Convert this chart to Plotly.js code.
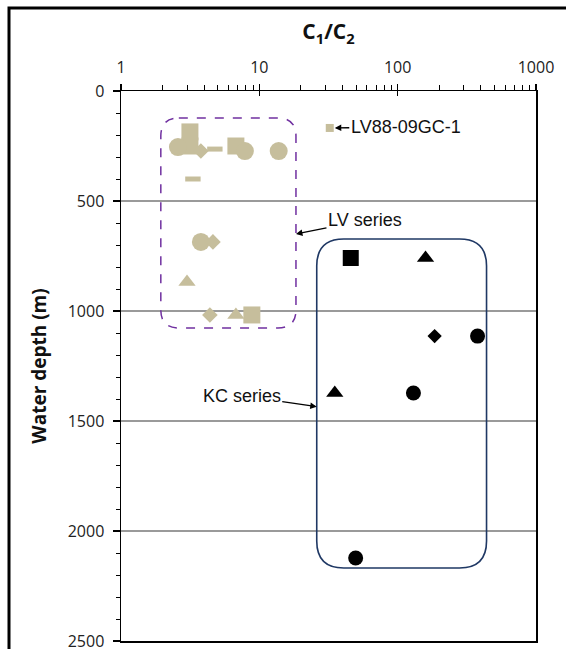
<!DOCTYPE html>
<html><head><meta charset="utf-8">
<script src="https://cdn.plot.ly/plotly-3.0.1.min.js"></script>
<style>html,body{margin:0;padding:0;background:#fff;}#chart{width:566px;height:649px;}</style>
</head><body><div id="chart"></div>
<script>
// ---- data (C1/C2 ratio, water depth m) ----
// LV series
const lvCircleRatio = [2.58, 7.86, 13.8, 3.78];
const lvCircleDepth = [255, 273, 273, 686];
const lvSquareRatio = [3.15, 3.15, 6.77, 8.83];
const lvSquareDepth = [186, 250, 250, 1018];
const lvDiamondRatio = [3.78, 4.62, 4.39];
const lvDiamondDepth = [273, 686, 1018];
const lvTriangleRatio = [3.0, 6.77];
const lvTriangleDepth = [868, 1018];
const lvDashRatio = [4.77, 3.31];
const lvDashDepth = [264, 400];
const lv88Ratio = [32.3];
const lv88Depth = [168];
// KC series
const kcSquareRatio = [45.8];
const kcSquareDepth = [759];
const kcTriangleRatio = [159, 35.1];
const kcTriangleDepth = [759, 1373];
const kcDiamondRatio = [185];
const kcDiamondDepth = [1114];
const kcCircleRatio = [378, 130, 49.7];
const kcCircleDepth = [1114, 1373, 2123];
// axes
const xTickVals = [1, 10, 100, 1000];
const xTickText = ['1', '10', '100', '1000'];
const yTickVals = [0, 500, 1000, 1500, 2000, 2500];
const yTickText = ['0', '500', '1000', '1500', '2000', '2500'];
// group outlines (ratio min/max, depth min/max)
const lvBoxRatio = [1.94, 18.4];
const lvBoxDepth = [123, 1077];
const kcBoxRatio = [26.0, 439];
const kcBoxDepth = [673, 2168];

const W = 566, H = 649;
const M = {l: 121, r: 30, t: 91, b: 8};
const PW = W - M.l - M.r, PH = H - M.t - M.b;
const X_RANGE = [0, 3], Y_MAX = 2500;
const TAN = '#C6BE9C';

function px(v){ return (Math.log10(v) - X_RANGE[0]) / (X_RANGE[1] - X_RANGE[0]); }
function py(d){ return 1 - d / Y_MAX; }
function roundedBox(xr, yr, r){
  const x0 = px(xr[0]), x1 = px(xr[1]);
  const yt = py(yr[0]), yb = py(yr[1]);
  const rx = r / PW, ry = r / PH;
  return `M${x0+rx},${yt} L${x1-rx},${yt} Q${x1},${yt} ${x1},${yt-ry} L${x1},${yb+ry} Q${x1},${yb} ${x1-rx},${yb} L${x0+rx},${yb} Q${x0},${yb} ${x0},${yb+ry} L${x0},${yt-ry} Q${x0},${yt} ${x0+rx},${yt} Z`;
}

function pts(x, y, symbol, color, size, extra){
  const m = Object.assign({symbol: symbol, color: color, size: size, line: {width: 0}}, extra || {});
  return {x: x, y: y, type: 'scatter', mode: 'markers', marker: m, hoverinfo: 'x+y', showlegend: false, cliponaxis: false};
}

const traces = [
  pts(lvSquareRatio, lvSquareDepth, 'square', TAN, 17),
  pts(lvCircleRatio, lvCircleDepth, 'circle', TAN, 18),
  pts(lvDiamondRatio, lvDiamondDepth, 'diamond', TAN, 12),
  pts(lvTriangleRatio, lvTriangleDepth, 'triangle-up', TAN, 15),
  pts(lvDashRatio, lvDashDepth, 'line-ew', TAN, 11, {line: {width: 5, color: TAN}}),
  pts(lv88Ratio, lv88Depth, 'square', TAN, 8),
  pts(kcSquareRatio, kcSquareDepth, 'square', '#000', 16),
  pts(kcTriangleRatio, kcTriangleDepth, 'triangle-up', '#000', 15),
  pts(kcDiamondRatio, kcDiamondDepth, 'diamond', '#000', 11),
  pts(kcCircleRatio, kcCircleDepth, 'circle', '#000', 15),
  // invisible trace carrying the overlay axis used for the crossing major ticks
  {x: [1, 1000], y: [0, 0], xaxis: 'x2', yaxis: 'y', type: 'scatter', mode: 'markers',
   marker: {opacity: 0}, hoverinfo: 'skip', showlegend: false}
];

const tickFont = {family: 'Open Sans, sans-serif', size: 16, color: '#222'};
const annFont = {family: 'Liberation Sans, Arial, sans-serif', size: 18, color: '#111'};

const layout = {
  width: W, height: H,
  margin: M,
  paper_bgcolor: '#fff', plot_bgcolor: '#fff',
  showlegend: false,
  xaxis: {
    type: 'log', range: X_RANGE, side: 'top',
    tickvals: xTickVals, ticktext: xTickText,
    ticks: 'outside', ticklen: 6, tickwidth: 1.3, tickcolor: '#000',
    minor: {ticks: 'outside', ticklen: 5, tickwidth: 1, tickcolor: '#000', dtick: 'D1', showgrid: false},
    showline: true, linecolor: '#000', linewidth: 1.5, mirror: true,
    showgrid: false, zeroline: false,
    tickfont: tickFont, ticklabelstandoff: 4,
    title: {text: '<b>C<sub>1</sub>/C<sub>2</sub></b>', font: {family: 'Open Sans, sans-serif', size: 21, color: '#111'}, standoff: 10}
  },
  xaxis2: {
    type: 'log', range: X_RANGE, side: 'top', overlaying: 'x', anchor: 'y',
    tickvals: xTickVals, showticklabels: false,
    ticks: 'inside', ticklen: 5, tickwidth: 1.3, tickcolor: '#000',
    showline: false, showgrid: false, zeroline: false
  },
  yaxis: {
    range: [Y_MAX, 0],
    tickvals: yTickVals, ticktext: yTickText,
    ticks: 'outside', ticklen: 7, tickwidth: 1.3, tickcolor: '#000',
    minor: {ticks: 'outside', ticklen: 4, tickwidth: 1, tickcolor: '#000', dtick: 100, showgrid: false},
    showline: true, linecolor: '#000', linewidth: 1.5, mirror: true,
    showgrid: true, gridcolor: '#9a9a9a', gridwidth: 1.3, zeroline: false,
    tickfont: tickFont, ticklabelstandoff: 5, ticklabeloverflow: 'allow',
    title: {text: '<b>Water depth (m)</b>', font: {family: 'Open Sans, sans-serif', size: 19, color: '#111'}, standoff: 16}
  },
  shapes: [
    {type: 'rect', xref: 'paper', yref: 'paper', x0: (9 - M.l) / PW, x1: 1.3, y0: -0.2, y1: 1 + (M.t - 8) / PH,
     line: {color: '#000', width: 3}, fillcolor: 'rgba(0,0,0,0)', layer: 'below'},
    {type: 'path', xref: 'paper', yref: 'paper', path: roundedBox(lvBoxRatio, lvBoxDepth, 18),
     line: {color: '#7030A0', width: 1.5, dash: 'dash'}, layer: 'above'},
    {type: 'path', xref: 'paper', yref: 'paper', path: roundedBox(kcBoxRatio, kcBoxDepth, 27),
     line: {color: '#1F3864', width: 1.6}, layer: 'above'}
  ],
  annotations: [
    {x: Math.log10(35.1), y: 168, xref: 'x', yref: 'y', text: 'LV88-09GC-1', font: annFont,
     showarrow: true, ax: 71, ay: -1, arrowhead: 2, arrowsize: 1, arrowwidth: 1.3, arrowcolor: '#000'},
    {x: Math.log10(lvBoxRatio[1]), y: 650, xref: 'x', yref: 'y', text: 'LV series', font: annFont,
     showarrow: true, ax: 69, ay: -14, arrowhead: 2, arrowsize: 1, arrowwidth: 1.3, arrowcolor: '#000'},
    {x: Math.log10(kcBoxRatio[0]), y: 1435, xref: 'x', yref: 'y', text: 'KC series', font: annFont,
     showarrow: true, ax: -75, ay: -11, arrowhead: 2, arrowsize: 1, arrowwidth: 1.3, arrowcolor: '#000'}
  ]
};

Plotly.newPlot('chart', traces, layout, {displayModeBar: false, staticPlot: true});
</script>
</body></html>
